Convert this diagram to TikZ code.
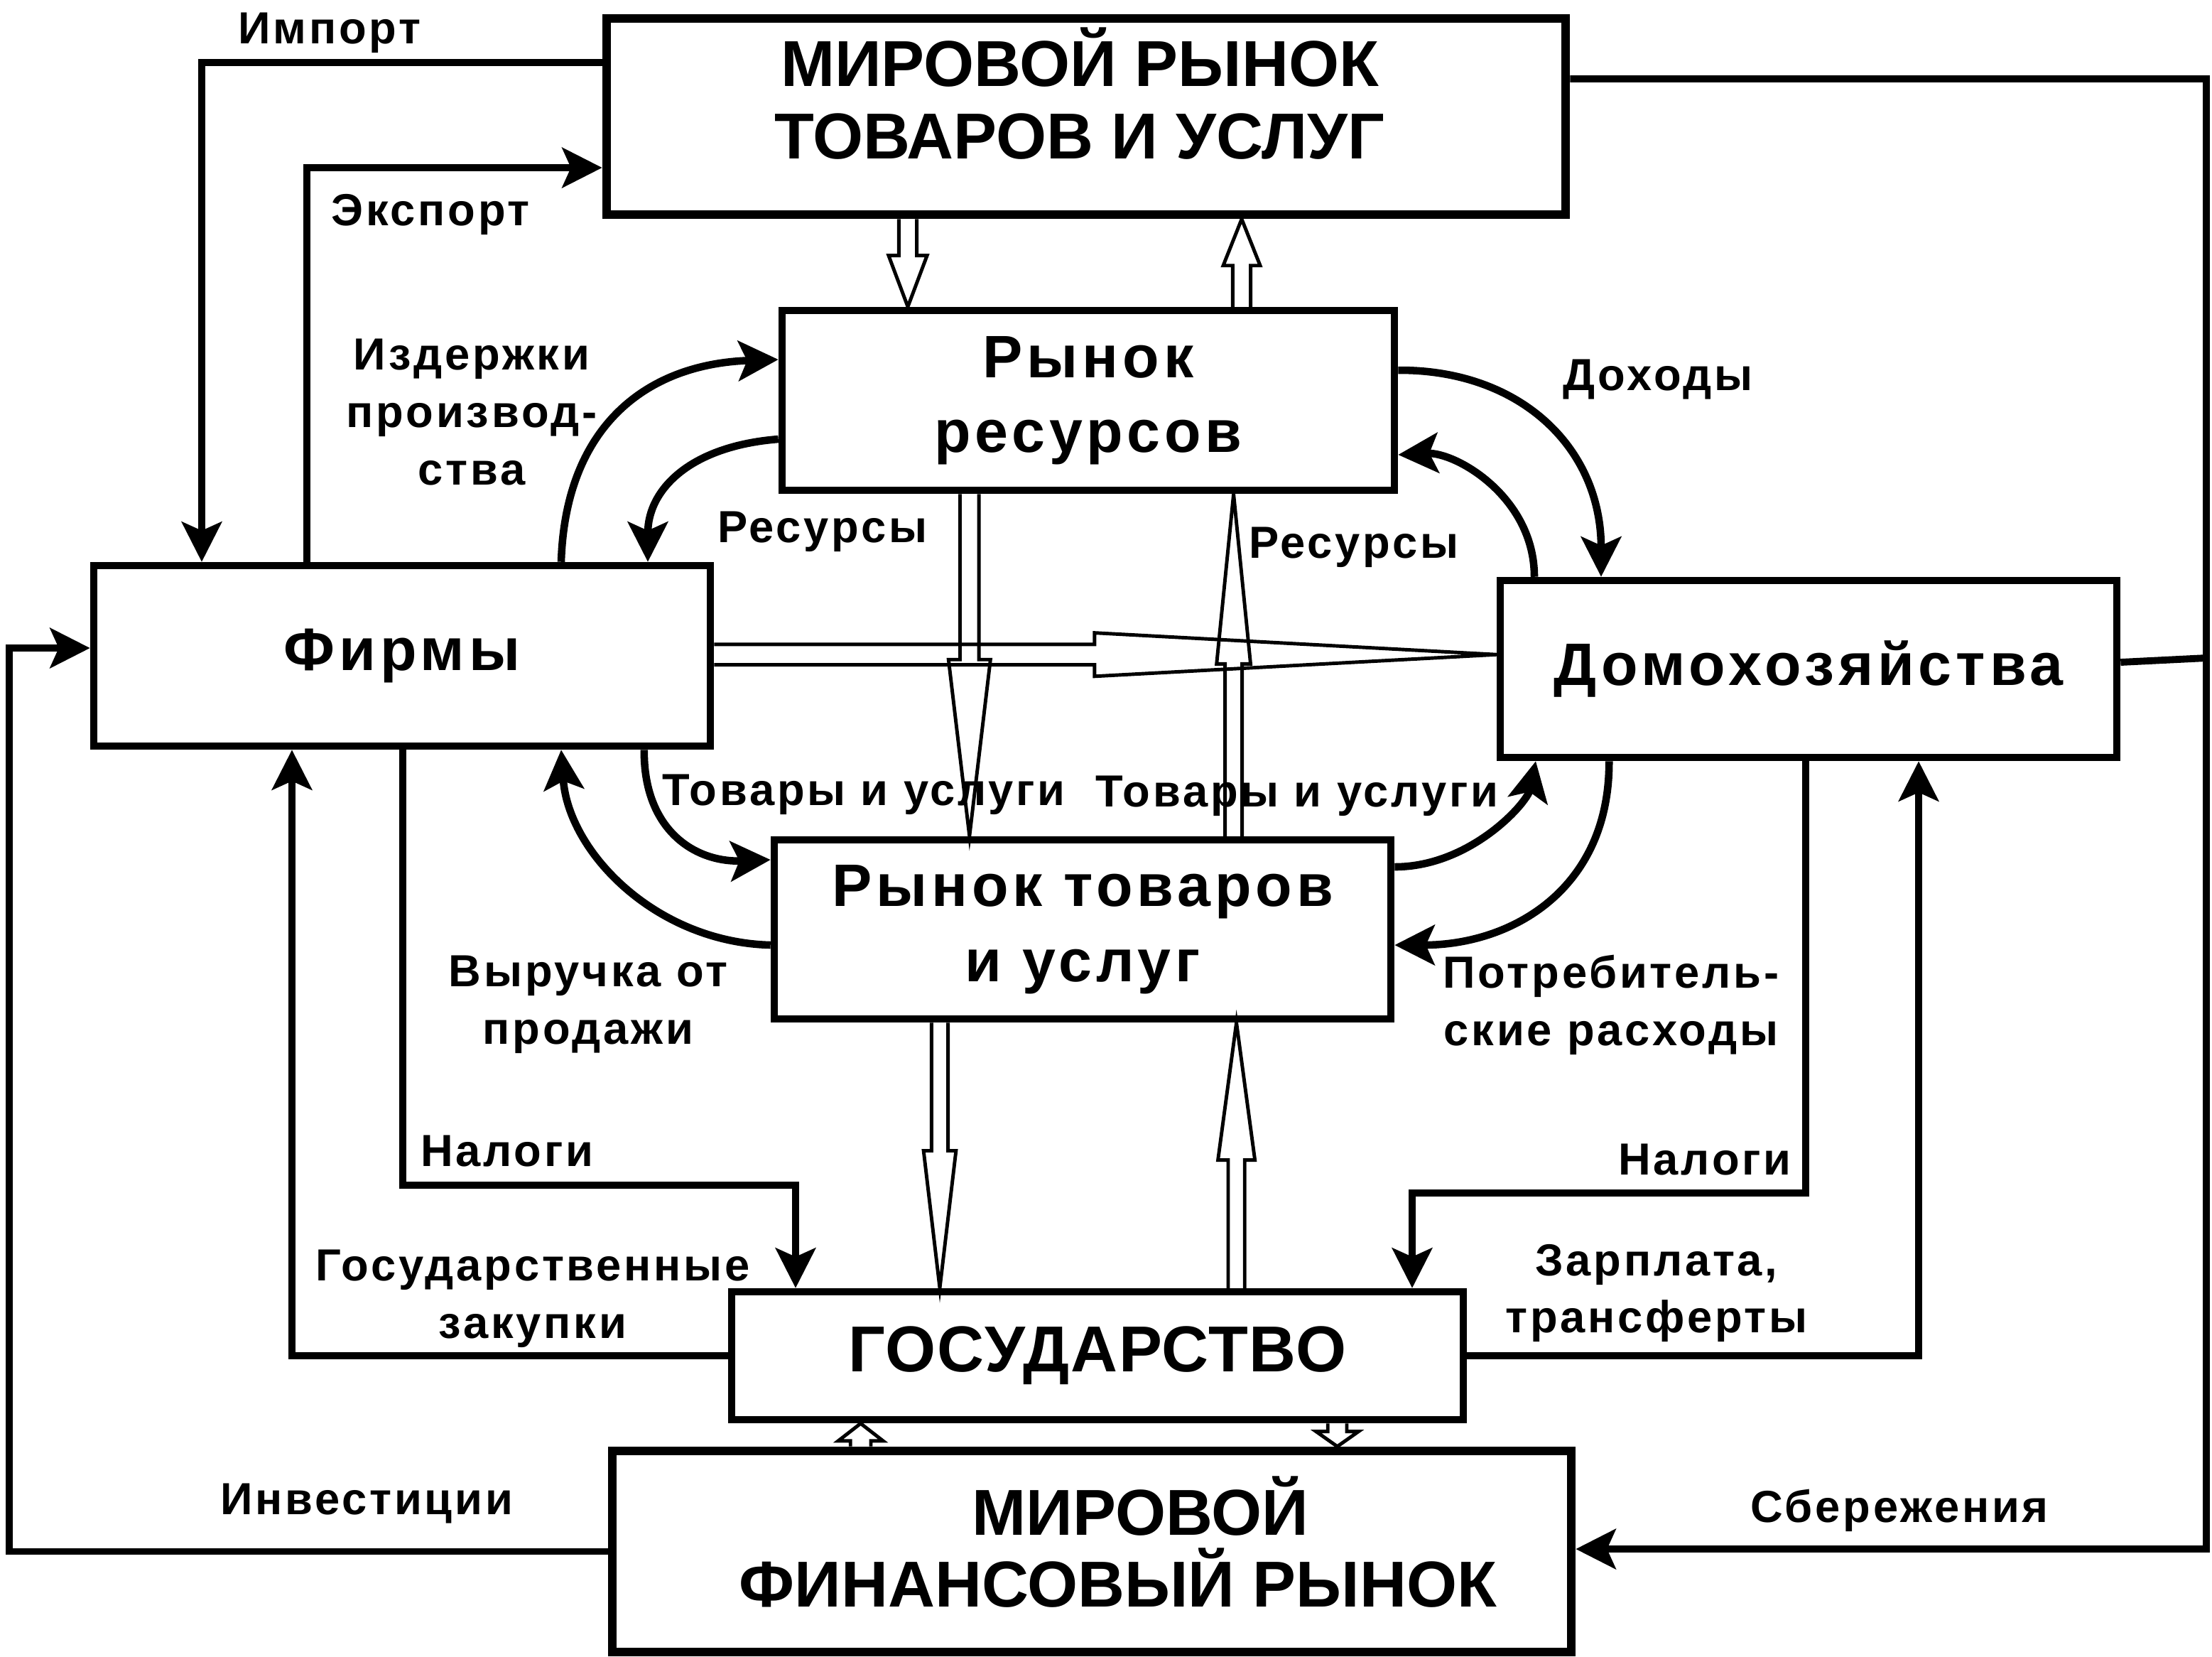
\documentclass[tikz,border=0pt]{standalone}
\usepackage{fontspec}
\setmainfont{Liberation Sans}
\newfontfamily\boxwide{Liberation Sans}[LetterSpace=7]
\newfontfamily\lblfont{Liberation Sans}[LetterSpace=6]
\newfontfamily\govfont{Liberation Sans}[LetterSpace=2]
\usetikzlibrary{arrows.meta,calc}

\tikzset{
  worldbox/.style={draw, line width=3.6pt, inner sep=0pt},
  worldtext/.style={inner sep=0pt, align=center, font=\bfseries\fontsize{26}{29}\selectfont},
  market/.style={draw, line width=3pt, inner sep=0pt, align=center, font=\boxwide\bfseries\fontsize{24}{30}\selectfont},
  lbl/.style={inner sep=0pt, align=center, font=\lblfont\bfseries\fontsize{18}{23}\selectfont},
  flow/.style={line width=2.8pt, -{Stealth[length=16pt,width=16pt,inset=3.5pt]}},
  curveflow/.style={flow, line width=3pt},
  plainline/.style={line width=2.8pt},
  hollow/.style={line width=1.4pt, line join=miter},
}

% hollow arrow: from, to, half shaft, half head, head length
\newcommand\hollowarrow[5]{%
  \path #1 coordinate (hwA) #2 coordinate (hwB);
  \coordinate (hwH) at ($(hwB)!#5!(hwA)$);
  \draw[hollow] ($(hwA)!#3!90:(hwB)$) -- ($(hwH)!#3!90:(hwB)$) -- ($(hwH)!#4!90:(hwB)$)
    -- (hwB) -- ($(hwH)!#4!-90:(hwB)$) -- ($(hwH)!#3!-90:(hwB)$) -- ($(hwA)!#3!-90:(hwB)$);}

\begin{document}
\begin{tikzpicture}[x=0.2mm, y=-0.2mm]
\useasboundingbox (0,0) rectangle (1557,1165.5);

% boxes
\node[worldbox, minimum width=135mm, minimum height=27.6mm] (wg) at (764.5,82) {};
\node[worldtext] (wgtext) at (760,66) {МИРОВОЙ РЫНОК\\ТОВАРОВ И УСЛУГ};
\node[market, minimum width=86.2mm, minimum height=25.3mm] (rr) at (766,281.75) {Рынок\\ресурсов};
\node[market, minimum width=86.8mm, minimum height=25.4mm] (firms) at (283,461.5) {Фирмы};
\node[market, minimum width=86.8mm, minimum height=24.9mm] (homes) at (1273,470.75) {Домохозяйства};
\node[market, minimum width=86.8mm, minimum height=25.2mm] (gm) at (762,654) {Рынок товаров\\и услуг};
\node[worldbox, worldtext, font=\govfont\bfseries\fontsize{26}{29}\selectfont, line width=3pt, minimum width=103mm, minimum height=18mm] (gov) at (772.5,954) {ГОСУДАРСТВО};
\node[worldbox, minimum width=135mm, minimum height=28.3mm] (wf) at (768.5,1091.75) {};
\node[worldtext] (wftext) at (787,1085) {\hspace*{17.8pt}МИРОВОЙ\\ФИНАНСОВЫЙ РЫНОК};

% import, export, savings
\draw[flow] (wg.west |- 0,44) -| (firms.north -| 142,0);
\draw[flow] (firms.north -| 216,0) |- (wg.west |- 0,118);
\coordinate (ne) at (1553,463);
\draw[plainline] (wg.east |- 0,55.5) -| (ne) -- (homes.east |- 0,466);
\draw[flow] (ne) |- (wf.east |- 0,1090);
\draw[flow] (wf.west) -- (6.5,1091.75) |- (firms.west |- 0,456);

% government
\draw[flow] (gov.west) -| (firms.south -| 205.5,0);
\draw[flow] (firms.south -| 283.5,0) |- (560,834) -- (gov.north -| 560,0);
\draw[flow] (homes.south -| 1271,0) |- (994,839.5) -- (gov.north -| 994,0);
\draw[flow] (gov.east) -| (homes.south -| 1350.5,0);

% money and goods around the markets
\draw[curveflow] (firms.north -| 395,0) .. controls (398,300) and (455,256) .. (rr.west |- 0,253);
\draw[curveflow] (rr.west |- 0,309) .. controls (485,314) and (456,345) .. (firms.north -| 456,0);
\draw[curveflow] (rr.east |- 0,260.5) .. controls (1070,260) and (1127,315) .. (homes.north -| 1127,0);
\draw[curveflow] (homes.north -| 1080,0) .. controls (1080,350) and (1025,318) .. (rr.east |- 0,320);
\draw[curveflow] (firms.south -| 453.4,0) .. controls (453,585) and (490,607) .. (gm.west |- 0,605);
\draw[curveflow] (gm.west |- 0,665) .. controls (462,663) and (400,600) .. (firms.south -| 395,0);
\draw[curveflow] (gm.east |- 0,610) .. controls (1035,610) and (1075,565) .. (homes.south -| 1081,0);
\draw[curveflow] (homes.south -| 1132.6,0) .. controls (1133,625) and (1065,665) .. (gm.east |- 0,665);

% real flows
\hollowarrow{(wg.south -| 639,0)}{(rr.north -| 639,0)}{3.6pt}{7.7pt}{20.5pt}
\hollowarrow{(rr.north -| 874,0)}{(wg.south -| 874,0)}{3.6pt}{7.4pt}{18.6pt}
\hollowarrow{(rr.south -| 682.4,0)}{(gm.north -| 682.4,0)}{3.8pt}{8.4pt}{70.7pt}
\hollowarrow{(gm.north -| 868.3,0)}{(rr.south -| 868.3,0)}{3.4pt}{6.8pt}{68pt}
\hollowarrow{(firms.east |- 0,460.6)}{(homes.west |- 0,460.6)}{4.1pt}{8.7pt}{161pt}
\hollowarrow{(gm.south -| 661.5,0)}{(gov.north -| 661.5,0)}{3.3pt}{6.5pt}{55pt}
\hollowarrow{(gov.north -| 870.3,0)}{(gm.south -| 870.3,0)}{3.3pt}{7.4pt}{55pt}
\hollowarrow{(gov.south -| 941.3,0)}{(wf.north -| 941.3,0)}{3.8pt}{8.5pt}{6pt}
\hollowarrow{(wf.north -| 605.8,0)}{(gov.south -| 605.8,0)}{4.1pt}{9pt}{7pt}

% labels
\node[lbl] (imp) at (232,23) {Импорт};
\node[lbl] (exp) at (303,151) {Экспорт};
\node[lbl] (cost) at (332,290) {Издержки\\производ-\\ства};
\node[lbl] (resL) at (579,374) {Ресурсы};
\node[lbl] (resR) at (953,385) {Ресурсы};
\node[lbl] (inc) at (1167,267) {Доходы};
\node[lbl] (gsL) at (608,559) {Товары и услуги};
\node[lbl] (gsR) at (913,560) {Товары и услуги};
\node[lbl] (rev) at (414,707) {Выручка от\\продажи};
\node[lbl] (cons) at (1134,707) {Потребитель-\\ские расходы};
\node[lbl] (taxF) at (357,810) {Налоги};
\node[lbl] (taxH) at (1200,816) {Налоги};
\node[lbl] (purch) at (375,914) {Государственные\\закупки};
\node[lbl] (wage) at (1166,910) {Зарплата,\\трансферты};
\node[lbl] (inv) at (258,1058) {Инвестиции};
\node[lbl] (sav) at (1337,1063) {Сбережения};
\end{tikzpicture}
\end{document}
